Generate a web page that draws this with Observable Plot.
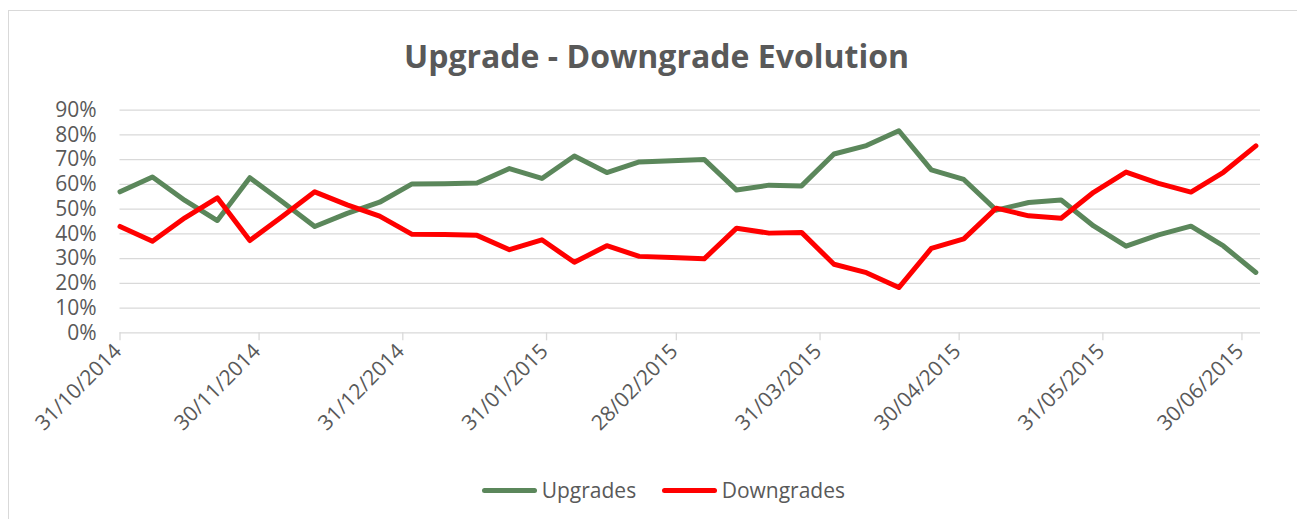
<!DOCTYPE html>
<html>
<head>
<meta charset="utf-8">
<script src="https://cdn.jsdelivr.net/npm/d3@7"></script>
<script src="https://cdn.jsdelivr.net/npm/@observablehq/plot@0.6"></script>
<style>
  html, body { margin: 0; padding: 0; background: #fff; }
  body { width: 1297px; height: 519px; overflow: hidden; font-family: "Open Sans", sans-serif; }
  #wrap { position: relative; width: 1297px; height: 519px; }
  #frame { position: absolute; left: 8px; top: 10px; width: 1300px; height: 520px; border: 1px solid #d9d9d9; pointer-events: none; }
  #title { height: 90px; box-sizing: border-box; padding-top: 34px; margin-left: 9px; width: 1295px;
           text-align: center; font-weight: 700; font-size: 32px; line-height: 44px; color: #595959; white-space: nowrap; }
  #chart svg { display: block; overflow: visible; }
  #legend { position: relative; height: 89px; }
  .sw { position: absolute; height: 5px; border-radius: 3px; top: 58px; }
  .lt { position: absolute; top: 46px; font-size: 21px; line-height: 28px; color: #595959; white-space: nowrap; }
</style>
</head>
<body>
<div id="wrap">
  <div id="frame"></div>
  <div id="title">Upgrade - Downgrade Evolution</div>
  <div id="chart"></div>
  <div id="legend"></div>
</div>
<script>
// Weekly observation dates (Fridays)
const dates = [
  "2014-10-31","2014-11-07","2014-11-14","2014-11-21","2014-11-28","2014-12-05",
  "2014-12-12","2014-12-19","2014-12-26","2015-01-02","2015-01-09","2015-01-16",
  "2015-01-23","2015-01-30","2015-02-06","2015-02-13","2015-02-20","2015-02-27",
  "2015-03-06","2015-03-13","2015-03-20","2015-03-27","2015-04-03","2015-04-10",
  "2015-04-17","2015-04-24","2015-05-01","2015-05-08","2015-05-15","2015-05-22",
  "2015-05-29","2015-06-05","2015-06-12","2015-06-19","2015-06-26","2015-07-03"
];
const upgrades = [
  57.0, 63.0, 53.5, 45.4, 62.7, 53.0, 43.0, 48.3, 52.8, 60.2, 60.3, 60.6,
  66.4, 62.4, 71.5, 64.8, 69.1, 69.6, 70.1, 57.7, 59.7, 59.4, 72.3, 75.7,
  81.7, 65.9, 62.0, 49.6, 52.7, 53.7, 43.2, 35.0, 39.6, 43.1, 35.1, 24.4
];
const downgrades = [
  43.0, 37.0, 46.5, 54.6, 37.3, 47.0, 57.0, 51.7, 47.2, 39.8, 39.7, 39.4,
  33.6, 37.6, 28.5, 35.2, 30.9, 30.4, 29.9, 42.3, 40.3, 40.6, 27.7, 24.3,
  18.3, 34.1, 38.0, 50.4, 47.3, 46.3, 56.8, 65.0, 60.4, 56.9, 64.9, 75.6
];
const seriesNames = ["Upgrades", "Downgrades"];
const seriesColors = ["#5b875b", "#ff0000"];
const xTicks = ["2014-10-31","2014-11-30","2014-12-31","2015-01-31","2015-02-28",
                "2015-03-31","2015-04-30","2015-05-31","2015-06-30"];
const yTicks = [0, 10, 20, 30, 40, 50, 60, 70, 80, 90];
const xDomain = ["2014-10-31", "2015-07-04"];

const parse = d3.utcParse("%Y-%m-%d");
const fmt = d3.utcFormat("%d/%m/%Y");
const rows = [];
dates.forEach((d, i) => {
  rows.push({date: parse(d), value: upgrades[i], series: seriesNames[0]});
  rows.push({date: parse(d), value: downgrades[i], series: seriesNames[1]});
});
const xt = xTicks.map(parse);

const chart = Plot.plot({
  width: 1297,
  height: 340,
  marginLeft: 119.5,
  marginRight: 37,
  marginTop: 19.7,
  marginBottom: 97.7,
  style: {fontFamily: "Open Sans, sans-serif", fontSize: "21px", color: "#595959", background: "transparent", overflow: "visible"},
  x: {type: "utc", domain: xDomain.map(parse)},
  y: {domain: [0, 90]},
  color: {domain: seriesNames, range: seriesColors},
  marks: [
    Plot.gridY(yTicks, {stroke: "#d9d9d9", strokeOpacity: 1, strokeWidth: 1.3}),
    Plot.axisY(yTicks, {tickSize: 0, tickPadding: 23.5, tickFormat: d => d + "%", label: null, fill: "#595959"}),
    Plot.ruleX(xt, {x: d => d, y1: 0, y2: 0, insetBottom: -8, stroke: "#d9d9d9", strokeWidth: 1.3}),
    Plot.axisX(xt, {tickSize: 0, tickPadding: 15, dx: -2, tickRotate: -45, tickFormat: fmt, label: null, fill: "#595959"}),
    Plot.lineY(rows, {x: "date", y: "value", z: "series", stroke: "series", strokeWidth: 5,
                      strokeLinejoin: "round", strokeLinecap: "round"})
  ]
});
document.getElementById("chart").appendChild(chart);

// Legend
const legend = document.getElementById("legend");
const legendPos = [{sw: 482, tx: 541.7}, {sw: 661.7, tx: 721.7}];
seriesNames.forEach((name, i) => {
  const s = document.createElement("div");
  s.className = "sw";
  s.style.left = legendPos[i].sw + "px";
  s.style.width = "55px";
  s.style.background = seriesColors[i];
  legend.appendChild(s);
  const t = document.createElement("div");
  t.className = "lt";
  t.style.left = legendPos[i].tx + "px";
  t.textContent = name;
  legend.appendChild(t);
});
</script>
</body>
</html>
